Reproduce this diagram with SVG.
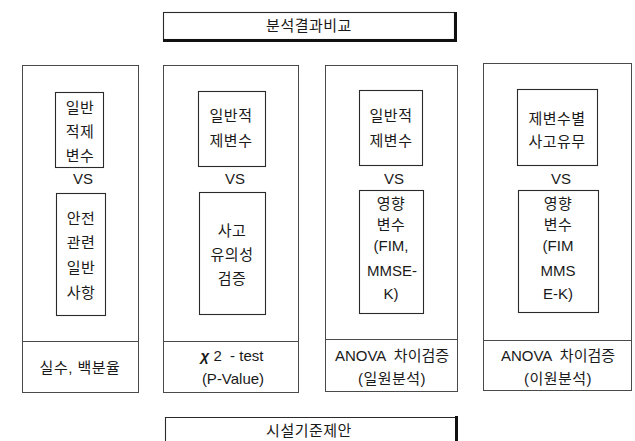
<svg xmlns="http://www.w3.org/2000/svg" width="635" height="441" viewBox="0 0 635 441">
<style>
text{font-family:"Liberation Sans","Noto Sans CJK KR",sans-serif;font-size:15px;fill:#1a1a1a;text-anchor:middle}
.k{letter-spacing:0.5px}
.panel{fill:none;stroke:#4a4a4a;stroke-width:1}
.box{fill:#fff;stroke:#2a2a2a;stroke-width:1.1}
.div{stroke:#4a4a4a;stroke-width:1}
.shadow{stroke:#111;stroke-width:3;fill:none}
</style>
<rect width="635" height="441" fill="#fff"/>

<g id="title">
<rect class="box" x="163.5" y="12.5" width="291" height="27"/>
<path class="shadow" d="M163 40.5H457M455.5 12V42"/>
<text class="k" x="309" y="31">분석결과비교</text>
</g>

<g id="panel1">
<rect class="panel" x="22.5" y="65.5" width="116" height="327"/>
<line class="div" x1="22.5" y1="341.5" x2="138.5" y2="341.5"/>
<rect class="box" x="55.5" y="92.5" width="48" height="75"/>
<text class="k" x="80" y="113">일반</text>
<text class="k" x="80" y="137">적제</text>
<text class="k" x="80" y="161">변수</text>
<text x="83" y="184">VS</text>
<rect class="box" x="56.5" y="193.5" width="49" height="122"/>
<text class="k" x="81" y="224">안전</text>
<text class="k" x="81" y="248">관련</text>
<text class="k" x="81" y="273">일반</text>
<text class="k" x="81" y="298">사항</text>
<text class="k" x="80" y="373">실수, 백분율</text>
</g>

<g id="panel2">
<rect class="panel" x="163.5" y="65.5" width="135" height="327"/>
<line class="div" x1="163.5" y1="341.5" x2="298.5" y2="341.5"/>
<rect class="box" x="198.5" y="91.5" width="67" height="75"/>
<text class="k" x="231" y="121">일반적</text>
<text class="k" x="231" y="146">제변수</text>
<text x="235" y="184">VS</text>
<rect class="box" x="199.5" y="192.5" width="66" height="122"/>
<text class="k" x="232" y="236">사고</text>
<text class="k" x="232" y="260">유의성</text>
<text class="k" x="232" y="284">검증</text>
<text x="232" y="361" xml:space="preserve"><tspan font-style="italic" font-weight="bold">χ</tspan> 2  - test</text>
<text x="233" y="384">(P-Value)</text>
</g>

<g id="panel3">
<rect class="panel" x="325.5" y="65.5" width="132" height="326"/>
<line class="div" x1="325.5" y1="339.5" x2="457.5" y2="339.5"/>
<rect class="box" x="359.5" y="90.5" width="63" height="75"/>
<text class="k" x="391" y="121">일반적</text>
<text class="k" x="391" y="146">제변수</text>
<text x="394" y="184">VS</text>
<rect class="box" x="359.5" y="190.5" width="64" height="123"/>
<text class="k" x="391" y="209">영향</text>
<text class="k" x="391" y="230">변수</text>
<text x="391" y="251">(FIM,</text>
<text x="392" y="276">MMSE-</text>
<text x="391" y="299">K)</text>
<text x="392" y="361" xml:space="preserve">ANOVA  차이검증</text>
<text class="k" x="392" y="384">(일원분석)</text>
</g>

<g id="panel4">
<rect class="panel" x="483.5" y="63.5" width="148" height="327"/>
<line class="div" x1="483.5" y1="340.5" x2="631.5" y2="340.5"/>
<rect class="box" x="517.5" y="89.5" width="80" height="76"/>
<text class="k" x="557" y="124">제변수별</text>
<text class="k" x="557" y="147">사고유무</text>
<text x="561" y="184">VS</text>
<rect class="box" x="518.5" y="190.5" width="80" height="122"/>
<text class="k" x="558" y="209">영향</text>
<text class="k" x="558" y="230">변수</text>
<text x="558" y="251">(FIM</text>
<text x="558" y="276">MMS</text>
<text x="558" y="299">E-K)</text>
<text x="558" y="361" xml:space="preserve">ANOVA  차이검증</text>
<text class="k" x="558" y="384">(이원분석)</text>
</g>

<g id="proposal">
<path class="box" d="M165.5 441V417.5H455"/>
<path class="shadow" d="M456.5 416V441"/>
<text class="k" x="309" y="436">시설기준제안</text>
</g>

<g id="connectors"></g>
</svg>
